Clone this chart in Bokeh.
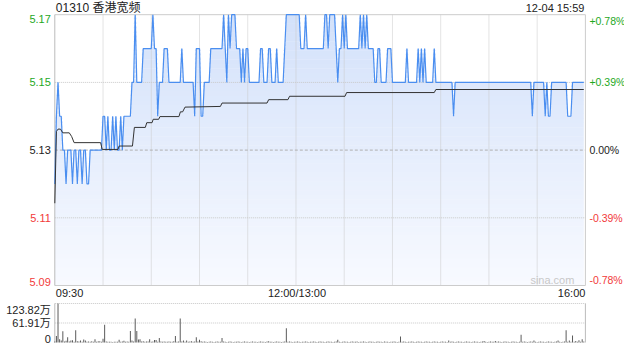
import numpy as np
from bokeh.plotting import figure
from bokeh.models import Range1d
from bokeh.core.properties import value
from bokeh.embed import file_html
from bokeh.resources import INLINE

# ---------------- data ----------------
stock_code = "01310"
stock_name = "香港宽频"
stamp = "12-04 15:59"
prev_close = 5.13
price_ticks = [5.17, 5.15, 5.13, 5.11, 5.09]
price_labels = ["5.17", "5.15", "5.13", "5.11", "5.09"]
pct_labels = ["+0.78%", "+0.39%", "0.00%", "-0.39%", "-0.78%"]
grid_times = [30, 60, 90, 120, 150, 180, 210, 240, 270, 300]
time_ticks = [0, 150, 330]
time_labels = ["09:30", "12:00/13:00", "16:00"]
vol_ticks = [123.82, 61.91, 0]
vol_labels = ["123.82万", "61.91万", "0"]

# minute-by-minute price, as (price, number of minutes) runs
price_runs = [
    (5.12, 1), (5.14, 1), (5.15, 1), (5.14, 2), (5.13, 2), (5.12, 1), (5.13, 3), (5.12, 1),
    (5.13, 2), (5.12, 1), (5.13, 2), (5.12, 1), (5.13, 2), (5.12, 2), (5.13, 8),
    (5.14, 2), (5.13, 1), (5.14, 1), (5.13, 2), (5.14, 1), (5.13, 1), (5.14, 1), (5.13, 2),
    (5.14, 1), (5.13, 1), (5.14, 5),
    (5.15, 2), (5.17, 1), (5.15, 4), (5.16, 6), (5.17, 1), (5.16, 2), (5.14, 1), (5.15, 3),
    (5.16, 3), (5.15, 8), (5.16, 1), (5.15, 7), (5.14, 1), (5.16, 3), (5.14, 2), (5.15, 4),
    (5.16, 8),
    (5.17, 1), (5.16, 1), (5.15, 1), (5.17, 1), (5.16, 1), (5.17, 3), (5.16, 3), (5.15, 1),
    (5.16, 1), (5.15, 1), (5.16, 2), (5.15, 7), (5.16, 2), (5.15, 3), (5.16, 2), (5.15, 3),
    (5.16, 1), (5.15, 4), (5.16, 1),
    (5.17, 9), (5.16, 3), (5.17, 1), (5.16, 11), (5.17, 2), (5.16, 1), (5.17, 4), (5.16, 1),
    (5.15, 1), (5.16, 2), (5.17, 1), (5.16, 1), (5.17, 1), (5.16, 8), (5.17, 1), (5.16, 1),
    (5.17, 1), (5.16, 1), (5.17, 1), (5.16, 4),
    (5.15, 2), (5.16, 2), (5.15, 4), (5.16, 3), (5.15, 9), (5.16, 1), (5.15, 6), (5.16, 1),
    (5.15, 1), (5.16, 1), (5.15, 1), (5.16, 1), (5.15, 5), (5.16, 1), (5.15, 11), (5.14, 1),
    (5.15, 48), (5.14, 1), (5.15, 7), (5.14, 1), (5.15, 1), (5.14, 2), (5.15, 10), (5.14, 3),
    (5.15, 8),
]

# average price line (minute, price)
avg_t = [0, 1, 2, 3.5, 5, 9, 10.5, 12, 28.5, 29.5, 39.3, 40, 48.3, 49.5, 56.3, 57.2, 60.5,
         61.2, 64.6, 65.4, 77.2, 78.1, 79.5, 81, 103, 104, 132, 133, 145, 146, 180.5, 181.5,
         236, 237, 329]
avg_p = [5.1143, 5.1355, 5.1362, 5.1362, 5.1351, 5.1351, 5.134, 5.1322, 5.1322, 5.1302,
         5.1302, 5.1312, 5.1312, 5.1367, 5.1367, 5.1381, 5.1381, 5.1391, 5.1391, 5.1399,
         5.1399, 5.1413, 5.1413, 5.1427, 5.1429, 5.1439, 5.1439, 5.1449, 5.1449, 5.1459,
         5.1459, 5.147, 5.147, 5.1479, 5.1479]

# volume per minute (万股)
volume = [
    3, 21, 123.82, 10.7, 6, 36, 3, 5.8, 16.5, 3, 6.6, 7.4, 2, 38.8, 4, 3, 6.6, 2, 9.9, 6,
    2, 3, 2, 4, 2, 10.7, 2, 4, 4, 2,
    11.6, 56, 3, 2, 2, 2, 1.5, 2, 2, 2, 9, 2, 3, 5.8, 2, 3, 2, 36.3, 6, 3,
    76, 36.3, 9.9, 10.7, 3, 4, 2, 3, 3, 10.7,
    2, 3, 8.3, 8.3, 2, 14, 3, 2, 3, 2, 2, 3, 2, 2, 4, 21, 2, 3, 76, 3,
    6.6, 2, 6.6, 2, 3, 4, 2, 3, 16.5, 3,
    9, 4, 2, 3, 2, 1.5, 2, 3, 2, 1.5, 2, 3, 2, 2, 14, 3, 2, 1.5, 2, 3,
    2, 1.5, 2, 2, 3, 2, 1.5, 2, 3, 2,
    2, 1.5, 2, 3, 2, 2, 1.5, 2, 3, 2, 2, 1.5, 3, 4, 2, 2, 1.5, 2, 3, 2,
    2, 1.5, 2, 3, 45.4, 2, 3, 2, 1.5, 2,
    2, 3, 2, 1.5, 2, 2, 3, 2, 1.5, 2, 2, 3, 2, 1.5, 2, 3, 2, 2, 1.5, 2,
    3, 2, 2, 1.5, 2, 3, 9, 2, 1.5, 2,
    3, 2, 2, 1.5, 2, 3, 2, 2, 3, 1.5, 2, 2, 3, 2, 1.5, 2, 3, 2, 2, 1.5,
    2, 3, 2, 2, 1.5, 3, 2, 2, 1.5, 2,
    2, 3, 2, 1.5, 2, 19, 2, 3, 2, 1.5, 2, 2, 3, 2, 1.5, 2, 3, 2, 2, 1.5,
    2, 3, 2, 2, 1.5, 2, 3, 2, 2, 1.5,
    2, 3, 2, 2, 1.5, 6.6, 2, 3, 2, 1.5, 2, 3, 2, 2, 1.5, 2, 3, 2, 2, 1.5,
    2, 3, 2, 2, 1.5, 2, 3, 5, 2, 1.5,
    2, 3, 2, 2, 5, 2, 3, 2, 1.5, 2, 3, 2, 2, 1.5, 2, 3, 2, 2, 1.5, 2,
    25, 2, 3, 2, 1.5, 2, 3, 2, 6, 2,
    1.5, 2, 3, 2, 2, 1.5, 2, 3, 2, 2, 1.5, 2, 3, 6, 2, 1.5, 2, 3, 39, 2,
    6.6, 2, 22, 2, 5, 2, 7, 2, 10, 3,
]

# ---------------- derived ----------------
prices = np.array([p for p, n in price_runs for _ in range(n)])
t = np.arange(len(prices))
vt = np.arange(len(volume))

# ---------------- layout (picture pixels) ----------------
W, H = 624, 344
PX_T0, PX_T1 = 54.3, 584.9          # x of 09:30 and 16:00
PY_TOP, PY_BOT = 14.2, 285.0         # y of top / bottom price ticks
PV_TOP, PV_BASE = 303.0, 342.0       # y of top volume tick / zero
P_HI, P_LO = price_ticks[0], price_ticks[-1]
V_HI = vol_ticks[0]
T_END = time_ticks[-1]

sx = (PX_T1 - PX_T0) / T_END
x_start = -PX_T0 / sx
x_end = x_start + W / sx
sy = (PY_BOT - PY_TOP) / (P_HI - P_LO)
y_end = P_HI + PY_TOP / sy
y_start = P_HI - (H - PY_TOP) / sy
sv = (PV_BASE - PV_TOP) / V_HI
v_start = -(H - PV_BASE) / sv
v_end = PV_BASE / sv

p = figure(width=W, height=H, x_range=Range1d(x_start, x_end), y_range=Range1d(y_start, y_end),
           x_axis_type=None, y_axis_type=None, toolbar_location=None, output_backend="svg",
           min_border=0, outline_line_color=None, background_fill_color="white",
           border_fill_color="white")
p.extra_y_ranges = {"vol": Range1d(v_start, v_end)}

# gradient fill under price line (banded)
top_c = np.array([211, 225, 250])
bot_c = np.array([248, 250, 255])
nb = 60
edges = np.linspace(P_LO, P_HI, nb + 1)
ov = 0.4 / sy
for i in range(nb):
    lo, hi = edges[i], edges[i + 1]
    f = (P_HI - (lo + hi) / 2) / (P_HI - P_LO)
    c = top_c * (1 - f) + bot_c * f
    col = "#%02x%02x%02x" % tuple(int(round(v)) for v in c)
    p.varea(x=t, y1=lo, y2=np.clip(prices, lo, hi + ov), fill_color=col)

# grid lines
GRID = "#c8c8c8"
p.segment(x0=grid_times, y0=P_LO, x1=grid_times, y1=P_HI, line_color=GRID, line_dash="1 1",
          line_width=1)
mid_ticks = [v for v in price_ticks if v not in (P_HI, P_LO, prev_close)]
p.segment(x0=0, y0=mid_ticks, x1=T_END, y1=mid_ticks, line_color=GRID, line_dash="1 1",
          line_width=1)
p.segment(x0=[0], y0=[prev_close], x1=[T_END], y1=[prev_close], line_color="#b0b0b0",
          line_dash="3 2", line_width=1)

# main panel border
BORDER = "#cccccc"
p.segment(x0=[0, 0, T_END], y0=[P_HI, P_LO, P_LO], x1=[T_END, T_END, T_END],
          y1=[P_HI, P_LO, P_HI], line_color=BORDER, line_width=1)
p.segment(x0=[0], y0=[P_LO], x1=[0], y1=[P_HI], line_color="#bbbbbb", line_width=1)

# price and average lines
p.line(t, prices, line_color="#4a8ef0", line_width=1.2)
p.line(avg_t, avg_p, line_color="#333333", line_width=1)

# volume panel
p.segment(x0=0, y0=vol_ticks[:2], x1=T_END, y1=vol_ticks[:2], line_color=GRID,
          line_dash="1 1", line_width=1, y_range_name="vol")
p.segment(x0=[0, T_END], y0=[0, 0], x1=[0, T_END], y1=[V_HI, V_HI], line_color="#bbbbbb",
          line_width=1, y_range_name="vol")
p.vbar(x=vt, top=volume, bottom=0, width=0.6, fill_color="#555555", line_color=None,
       y_range_name="vol")

# ---------------- texts ----------------
FONT = value("Liberation Sans, Noto Sans CJK SC")
GREEN, RED, BLACK = "#1ea81e", "#f23a3a", "#222222"
tick_colors = [GREEN, GREEN, BLACK, RED, RED]
baselines = ["top", "middle", "middle", "middle", "bottom"]

for v, lab, pct, col, bl in zip(price_ticks, price_labels, pct_labels, tick_colors, baselines):
    p.text(x=[0], y=[v], text=[lab], text_font=FONT, text_font_size="11px", text_color=col,
           text_align="right", text_baseline=bl, x_offset=-4)
    p.text(x=[T_END], y=[v], text=[pct], text_font=FONT, text_font_size="10.5px",
           text_color=col, text_align="left", text_baseline=bl, x_offset=4)

# title row
title_y = P_HI + (PY_TOP - 7.3) / sy
p.text(x=[0], y=[title_y], text=[stock_code + " " + stock_name], text_font=FONT,
       text_font_size="12px", text_color="#222222", text_align="left",
       text_baseline="middle", x_offset=1)
p.text(x=[T_END], y=[title_y], text=[stamp], text_font=FONT, text_font_size="11px",
       text_color="#222222", text_align="right", text_baseline="middle", x_offset=-1)

# time labels
time_y = P_LO - (292.7 - PY_BOT) / sy
aligns = ["left", "center", "right"]
offs = [1, 1, 0]
for tt, lab, al, of in zip(time_ticks, time_labels, aligns, offs):
    p.text(x=[tt], y=[time_y], text=[lab], text_font=FONT, text_font_size="11px",
           text_color="#222222", text_align=al, text_baseline="middle", x_offset=of)

# volume labels
vbl = ["top", "middle", "bottom"]
for v, lab, bl in zip(vol_ticks, vol_labels, vbl):
    p.text(x=[0], y=[v], text=[lab], text_font=FONT, text_font_size="11px",
           text_color="#222222", text_align="right", text_baseline=bl, x_offset=-4,
           y_range_name="vol")

# watermark
p.text(x=[T_END], y=[P_LO + 5.5 / sy], text=["sina.com"], text_font=FONT,
       text_font_size="11px", text_color="#c8c8c8", text_align="right",
       text_baseline="middle", x_offset=-11)

open("out.html", "w").write(file_html(p, INLINE))
